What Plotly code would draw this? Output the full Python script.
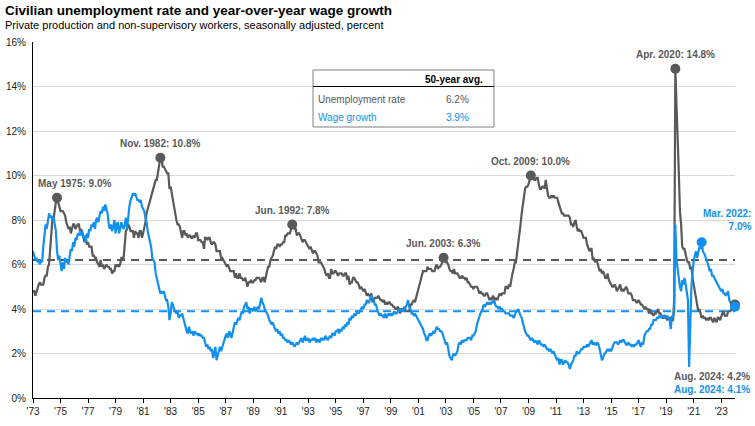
import pandas as pd
import plotly.graph_objects as go

# ---------------- data ----------------
start_month = "1973-08-01"
end_month = "2024-08-01"

# Civilian unemployment rate, monthly, Aug 1973 - Aug 2024 (%)
unemployment = [
    4.8, 4.8, 4.6, 4.8, 4.9,                                   # 1973 Aug-Dec
    5.1, 5.2, 5.1, 5.1, 5.1, 5.4, 5.5, 5.5, 5.9, 6.0, 6.6, 7.2,  # 1974
    8.1, 8.1, 8.6, 8.8, 9.0, 8.8, 8.6, 8.4, 8.4, 8.4, 8.3, 8.2,  # 1975
    7.9, 7.7, 7.6, 7.7, 7.4, 7.6, 7.8, 7.8, 7.6, 7.7, 7.8, 7.8,  # 1976
    7.5, 7.6, 7.4, 7.2, 7.0, 7.2, 6.9, 7.0, 6.8, 6.8, 6.8, 6.4,  # 1977
    6.4, 6.3, 6.3, 6.1, 6.0, 5.9, 6.2, 5.9, 6.0, 5.8, 5.9, 6.0,  # 1978
    5.9, 5.9, 5.8, 5.8, 5.6, 5.7, 5.7, 6.0, 5.9, 6.0, 5.9, 6.0,  # 1979
    6.3, 6.3, 6.3, 6.9, 7.5, 7.6, 7.8, 7.7, 7.5, 7.5, 7.5, 7.2,  # 1980
    7.5, 7.4, 7.4, 7.2, 7.5, 7.5, 7.2, 7.4, 7.6, 7.9, 8.3, 8.5,  # 1981
    8.6, 8.9, 9.0, 9.3, 9.4, 9.6, 9.8, 9.8, 10.1, 10.4, 10.8, 10.8,  # 1982
    10.4, 10.4, 10.3, 10.2, 10.1, 10.1, 9.4, 9.5, 9.2, 8.8, 8.5, 8.3,  # 1983
    8.0, 7.8, 7.8, 7.7, 7.4, 7.2, 7.5, 7.5, 7.3, 7.4, 7.2, 7.3,  # 1984
    7.3, 7.2, 7.2, 7.3, 7.2, 7.4, 7.4, 7.1, 7.1, 7.1, 7.0, 7.0,  # 1985
    6.7, 7.2, 7.2, 7.1, 7.2, 7.2, 7.0, 6.9, 7.0, 7.0, 6.9, 6.6,  # 1986
    6.6, 6.6, 6.6, 6.3, 6.3, 6.2, 6.1, 6.0, 5.9, 6.0, 5.8, 5.7,  # 1987
    5.7, 5.7, 5.7, 5.4, 5.6, 5.4, 5.4, 5.6, 5.4, 5.4, 5.3, 5.3,  # 1988
    5.4, 5.2, 5.0, 5.2, 5.2, 5.3, 5.2, 5.2, 5.3, 5.3, 5.4, 5.4,  # 1989
    5.4, 5.3, 5.2, 5.4, 5.4, 5.2, 5.5, 5.7, 5.9, 5.9, 6.2, 6.3,  # 1990
    6.4, 6.6, 6.8, 6.7, 6.9, 6.9, 6.8, 6.9, 6.9, 7.0, 7.0, 7.3,  # 1991
    7.3, 7.4, 7.4, 7.4, 7.6, 7.8, 7.7, 7.6, 7.6, 7.3, 7.4, 7.4,  # 1992
    7.3, 7.1, 7.0, 7.1, 7.1, 7.0, 6.9, 6.8, 6.7, 6.8, 6.6, 6.5,  # 1993
    6.6, 6.6, 6.5, 6.4, 6.1, 6.1, 6.1, 6.0, 5.9, 5.8, 5.6, 5.5,  # 1994
    5.6, 5.4, 5.4, 5.8, 5.6, 5.6, 5.7, 5.7, 5.6, 5.5, 5.6, 5.6,  # 1995
    5.6, 5.5, 5.5, 5.6, 5.6, 5.3, 5.5, 5.1, 5.2, 5.2, 5.4, 5.4,  # 1996
    5.3, 5.2, 5.2, 5.1, 4.9, 5.0, 4.9, 4.8, 4.9, 4.7, 4.6, 4.7,  # 1997
    4.6, 4.6, 4.7, 4.3, 4.4, 4.5, 4.5, 4.5, 4.6, 4.5, 4.4, 4.4,  # 1998
    4.3, 4.4, 4.2, 4.3, 4.2, 4.3, 4.3, 4.2, 4.2, 4.1, 4.1, 4.0,  # 1999
    4.0, 4.1, 4.0, 3.8, 4.0, 4.0, 4.0, 4.1, 3.9, 3.9, 3.9, 3.9,  # 2000
    4.2, 4.2, 4.3, 4.4, 4.3, 4.5, 4.6, 4.9, 5.0, 5.3, 5.5, 5.7,  # 2001
    5.7, 5.7, 5.7, 5.9, 5.8, 5.8, 5.8, 5.7, 5.7, 5.7, 5.9, 6.0,  # 2002
    5.8, 5.9, 5.9, 6.0, 6.1, 6.3, 6.2, 6.1, 6.1, 6.0, 5.8, 5.7,  # 2003
    5.7, 5.6, 5.8, 5.6, 5.6, 5.6, 5.5, 5.4, 5.4, 5.5, 5.4, 5.4,  # 2004
    5.3, 5.4, 5.2, 5.2, 5.1, 5.0, 5.0, 4.9, 5.0, 5.0, 5.0, 4.9,  # 2005
    4.7, 4.8, 4.7, 4.7, 4.6, 4.6, 4.7, 4.7, 4.5, 4.4, 4.5, 4.4,  # 2006
    4.6, 4.5, 4.4, 4.5, 4.4, 4.6, 4.7, 4.6, 4.7, 4.7, 4.7, 5.0,  # 2007
    5.0, 4.9, 5.1, 5.0, 5.4, 5.6, 5.8, 6.1, 6.1, 6.5, 6.8, 7.3,  # 2008
    7.8, 8.3, 8.7, 9.0, 9.4, 9.5, 9.5, 9.6, 9.8, 10.0, 9.9, 9.9,  # 2009
    9.8, 9.8, 9.9, 9.9, 9.6, 9.4, 9.4, 9.5, 9.5, 9.4, 9.8, 9.3,  # 2010
    9.1, 9.0, 9.0, 9.1, 9.0, 9.1, 9.0, 9.0, 9.0, 8.8, 8.6, 8.5,  # 2011
    8.3, 8.3, 8.2, 8.2, 8.2, 8.2, 8.2, 8.1, 7.8, 7.8, 7.7, 7.9,  # 2012
    8.0, 7.7, 7.5, 7.6, 7.5, 7.5, 7.3, 7.2, 7.2, 7.2, 6.9, 6.7,  # 2013
    6.6, 6.7, 6.7, 6.2, 6.3, 6.1, 6.2, 6.1, 5.9, 5.7, 5.8, 5.6,  # 2014
    5.7, 5.5, 5.4, 5.4, 5.6, 5.3, 5.2, 5.1, 5.0, 5.0, 5.1, 5.0,  # 2015
    4.8, 4.9, 5.0, 5.1, 4.8, 4.9, 4.8, 4.9, 5.0, 4.9, 4.7, 4.7,  # 2016
    4.7, 4.6, 4.4, 4.4, 4.4, 4.3, 4.3, 4.4, 4.3, 4.2, 4.2, 4.1,  # 2017
    4.0, 4.1, 4.0, 4.0, 3.8, 4.0, 3.8, 3.8, 3.7, 3.8, 3.8, 3.9,  # 2018
    4.0, 3.8, 3.8, 3.7, 3.6, 3.6, 3.7, 3.6, 3.5, 3.6, 3.6, 3.6,  # 2019
    3.5, 3.5, 4.4, 14.8, 13.2, 11.0, 10.2, 8.4, 7.8, 6.8, 6.7, 6.7,  # 2020
    6.4, 6.2, 6.1, 6.1, 5.8, 5.9, 5.4, 5.1, 4.7, 4.5, 4.2, 3.9,  # 2021
    4.0, 3.8, 3.6, 3.7, 3.6, 3.6, 3.5, 3.6, 3.5, 3.6, 3.6, 3.5,  # 2022
    3.4, 3.6, 3.5, 3.4, 3.6, 3.6, 3.5, 3.7, 3.8, 3.9, 3.7, 3.7,  # 2023
    3.7, 3.9, 3.9, 3.9, 4.0, 4.1, 4.3, 4.2,                      # 2024 Jan-Aug
]

# Year-over-year wage growth, production & non-supervisory workers (%)
wage_growth = [
    6.6, 6.4, 6.2, 6.3, 6.1,                                   # 1973 Aug-Dec
    6.2, 6.0, 6.2, 6.1, 6.8, 7.4, 7.8, 7.6, 8.0, 8.3, 8.1, 8.2,  # 1974
    8.0, 8.1, 7.8, 7.5, 6.6, 6.2, 6.4, 6.0, 5.7, 6.1, 5.8, 6.3,  # 1975
    6.1, 6.2, 6.0, 6.4, 6.7, 6.6, 7.0, 6.8, 7.2, 7.1, 7.4, 7.3,  # 1976
    7.5, 7.3, 7.5, 7.2, 7.3, 7.0, 7.4, 7.2, 7.6, 7.5, 7.8, 7.7,  # 1977
    7.9, 7.6, 8.0, 8.1, 7.9, 8.2, 8.4, 8.3, 8.6, 8.4, 8.7, 8.5,  # 1978
    8.3, 7.8, 7.6, 7.8, 7.5, 7.7, 8.0, 7.4, 7.8, 7.9, 7.4, 7.6,  # 1979
    7.9, 7.7, 7.6, 7.8, 8.1, 7.6, 8.2, 8.6, 8.9, 9.0, 9.2, 9.1,  # 1980
    9.2, 9.0, 8.9, 8.9, 8.8, 8.9, 8.6, 8.5, 8.4, 8.1, 7.9, 7.5,  # 1981
    7.3, 7.1, 6.8, 6.3, 6.2, 6.1, 5.6, 5.4, 5.2, 4.9, 4.7, 4.8,  # 1982
    4.7, 4.8, 4.6, 4.4, 4.4, 4.1, 3.5, 3.8, 4.3, 4.2, 4.0, 3.9,  # 1983
    3.8, 3.9, 3.6, 3.7, 3.7, 3.8, 3.6, 3.3, 3.1, 3.0, 2.9, 3.2,  # 1984
    3.0, 2.9, 3.0, 2.8, 3.0, 2.9, 2.9, 2.8, 2.9, 2.8, 2.8, 2.7,  # 1985
    2.7, 2.5, 2.3, 2.4, 2.2, 2.3, 2.1, 2.2, 1.8, 2.0, 2.3, 1.7,  # 1986
    1.9, 2.1, 2.3, 2.1, 2.3, 2.5, 2.6, 2.8, 2.9, 2.7, 3.0, 2.9,  # 1987
    2.7, 3.0, 3.2, 3.4, 3.3, 3.5, 3.6, 3.5, 3.8, 3.9, 3.8, 4.1,  # 1988
    4.2, 4.3, 4.0, 4.1, 3.8, 4.0, 4.0, 3.9, 4.1, 3.9, 4.0, 4.1,  # 1989
    4.0, 4.3, 4.5, 4.3, 4.2, 4.0, 3.9, 3.8, 3.7, 3.5, 3.4, 3.3,  # 1990
    3.4, 3.2, 3.1, 3.0, 3.1, 2.9, 3.0, 2.8, 2.9, 2.7, 2.7, 2.6,  # 1991
    2.6, 2.5, 2.6, 2.5, 2.4, 2.5, 2.4, 2.3, 2.4, 2.5, 2.4, 2.5,  # 1992
    2.6, 2.7, 2.5, 2.6, 2.8, 2.6, 2.6, 2.7, 2.5, 2.6, 2.6, 2.7,  # 1993
    2.6, 2.7, 2.5, 2.6, 2.6, 2.5, 2.7, 2.6, 2.7, 2.6, 2.8, 2.7,  # 1994
    2.6, 2.7, 2.8, 2.7, 2.9, 2.9, 2.8, 3.0, 3.0, 3.1, 2.9, 3.1,  # 1995
    3.0, 3.2, 3.1, 3.3, 3.2, 3.4, 3.3, 3.6, 3.5, 3.7, 3.6, 3.8,  # 1996
    3.7, 3.8, 3.9, 3.8, 3.9, 4.0, 4.1, 4.0, 4.2, 4.2, 4.4, 4.3,  # 1997
    4.3, 4.5, 4.6, 4.5, 4.4, 4.2, 4.2, 4.0, 3.8, 3.7, 3.8, 3.7,  # 1998
    3.7, 3.6, 3.8, 3.6, 3.7, 3.8, 3.7, 3.8, 3.7, 3.8, 3.9, 3.8,  # 1999
    3.8, 3.9, 3.9, 4.0, 3.9, 4.0, 3.9, 4.0, 4.1, 4.2, 4.4, 4.1,  # 2000
    4.0, 3.8, 3.8, 3.7, 3.8, 3.7, 3.6, 3.5, 3.4, 3.3, 3.2, 3.1,  # 2001
    2.9, 2.8, 2.6, 2.6, 2.8, 2.9, 2.8, 2.9, 3.0, 2.9, 3.1, 3.2,  # 2002
    3.1, 3.1, 3.0, 3.0, 2.9, 2.7, 2.6, 2.4, 2.5, 2.2, 1.9, 1.8,  # 2003
    1.7, 1.9, 2.0, 1.9, 2.0, 2.1, 2.4, 2.5, 2.4, 2.6, 2.5, 2.6,  # 2004
    2.6, 2.6, 2.7, 2.7, 2.7, 2.6, 2.8, 2.8, 2.9, 3.0, 3.3, 3.5,  # 2005
    3.7, 3.8, 3.9, 4.0, 4.2, 4.1, 4.2, 4.3, 4.2, 4.3, 4.2, 4.3,  # 2006
    4.3, 4.4, 4.2, 4.1, 4.1, 4.0, 4.1, 4.0, 4.0, 3.9, 3.9, 3.8,  # 2007
    3.8, 3.8, 3.8, 3.7, 3.7, 3.7, 3.6, 3.7, 3.9, 3.9, 4.0, 3.8,  # 2008
    3.7, 3.6, 3.4, 3.2, 3.0, 2.9, 2.8, 2.8, 2.7, 2.6, 2.7, 2.6,  # 2009
    2.5, 2.6, 2.5, 2.4, 2.6, 2.5, 2.4, 2.4, 2.3, 2.4, 2.3, 2.2,  # 2010
    2.2, 2.1, 2.2, 2.1, 2.0, 2.1, 1.9, 1.8, 1.7, 1.8, 1.5, 1.7,  # 2011
    1.7, 1.5, 1.6, 1.7, 1.6, 1.6, 1.5, 1.3, 1.5, 1.6, 1.7, 1.9,  # 2012
    1.9, 2.1, 2.0, 2.0, 2.1, 2.2, 2.2, 2.3, 2.3, 2.3, 2.4, 2.3,  # 2013
    2.4, 2.5, 2.6, 2.4, 2.5, 2.4, 2.4, 2.5, 2.4, 2.2, 1.9, 1.7,  # 2014
    1.8, 2.0, 2.0, 2.1, 2.2, 2.1, 2.2, 2.1, 2.3, 2.4, 2.5, 2.5,  # 2015
    2.5, 2.4, 2.5, 2.6, 2.5, 2.6, 2.6, 2.5, 2.4, 2.4, 2.5, 2.4,  # 2016
    2.4, 2.3, 2.4, 2.3, 2.4, 2.4, 2.5, 2.6, 2.4, 2.3, 2.5, 2.4,  # 2017
    2.8, 2.9, 3.0, 3.0, 3.1, 3.1, 3.3, 3.3, 3.5, 3.5, 3.5, 3.6,  # 2018
    3.6, 3.7, 3.6, 3.7, 3.6, 3.7, 3.7, 3.6, 3.7, 3.6, 3.5, 3.1,  # 2019
    3.7, 3.6, 3.9, 7.8, 6.2, 5.8, 5.3, 5.0, 4.8, 5.3, 5.1, 5.4,  # 2020
    5.1, 4.8, 4.4, 1.4, 4.0, 5.0, 5.6, 6.2, 6.4, 6.6, 6.3, 6.5,  # 2021
    6.8, 6.7, 7.0, 6.6, 6.5, 6.4, 6.2, 6.1, 5.9, 5.7, 5.8, 5.5,  # 2022
    5.5, 5.4, 5.3, 5.2, 5.1, 5.0, 4.9, 4.8, 4.9, 4.7, 4.7, 4.6,  # 2023
    4.7, 4.8, 4.4, 4.3, 4.2, 4.1, 4.0, 4.1,                      # 2024 Jan-Aug
]

avg_unemployment = 6.2
avg_wage_growth = 3.9

unemp_peak_dates = ["1975-05-01", "1982-11-01", "1992-06-01", "2003-06-01", "2009-10-01", "2020-04-01"]
unemp_peak_labels = ["May 1975: 9.0%", "Nov. 1982: 10.8%", "Jun. 1992: 7.8%",
                     "Jun. 2003: 6.3%", "Oct. 2009: 10.0%", "Apr. 2020: 14.8%"]
unemp_label_xshift = [17, 0, 0, 0, 0, 0]

wage_peak_date = "2022-03-01"
wage_peak_label = "Mar. 2022:<br>7.0%"

latest_unemp_label = "Aug. 2024: 4.2%"
latest_wage_label = "Aug. 2024: 4.1%"

tick_labels = ["'73", "'75", "'77", "'79", "'81", "'83", "'85", "'87", "'89", "'91", "'93", "'95", "'97",
               "'99", "'01", "'03", "'05", "'07", "'09", "'11", "'13", "'15", "'17", "'19", "'21", "'23"]
tick_dates = [f"{1973 + 2 * i}-08-01" for i in range(len(tick_labels))]

y_ticks = [0, 2, 4, 6, 8, 10, 12, 14, 16]

# ---------------- styling ----------------
GRAY = "#595959"
BLUE = "#1190f0"
FONT = "Arial, Liberation Sans, sans-serif"

months = pd.date_range(start_month, end_month, freq="MS")
unemp = pd.Series(unemployment, index=months)
wage = pd.Series(wage_growth, index=months)

fig = go.Figure()

# average lines
fig.add_trace(go.Scatter(x=[months[0], months[-1]], y=[avg_unemployment] * 2, mode="lines",
                         line=dict(color=GRAY, width=2, dash="8px,6px"), hoverinfo="skip"))
fig.add_trace(go.Scatter(x=[months[0], months[-1]], y=[avg_wage_growth] * 2, mode="lines",
                         line=dict(color=BLUE, width=2, dash="8px,6px"), hoverinfo="skip"))

# series
fig.add_trace(go.Scatter(x=months, y=unemp.values, mode="lines", line=dict(color=GRAY, width=2.2)))
fig.add_trace(go.Scatter(x=months, y=wage.values, mode="lines", line=dict(color=BLUE, width=2.2)))

# peak markers
pk_x = pd.to_datetime(unemp_peak_dates)
fig.add_trace(go.Scatter(x=pk_x, y=unemp.loc[pk_x].values, mode="markers", cliponaxis=False,
                         marker=dict(color=GRAY, size=10)))
fig.add_trace(go.Scatter(x=[pd.Timestamp(wage_peak_date)], y=[wage.loc[wage_peak_date]], mode="markers",
                         cliponaxis=False, marker=dict(color=BLUE, size=10)))
# latest markers
fig.add_trace(go.Scatter(x=[months[-1]], y=[unemp.iloc[-1]], mode="markers", cliponaxis=False,
                         marker=dict(color=GRAY, size=10)))
fig.add_trace(go.Scatter(x=[months[-1]], y=[wage.iloc[-1]], mode="markers", cliponaxis=False,
                         marker=dict(color=BLUE, size=10)))

annotations = []
for d, lab, xs in zip(pk_x, unemp_peak_labels, unemp_label_xshift):
    annotations.append(dict(x=d, y=unemp.loc[d], text=lab, showarrow=False, xshift=xs, yshift=14,
                            xanchor="center", yanchor="middle",
                            font=dict(family=FONT, size=10, color=GRAY, weight="bold")))
annotations.append(dict(x=pd.Timestamp(wage_peak_date), y=wage.loc[wage_peak_date], text=wage_peak_label,
                        showarrow=False, xanchor="right", yanchor="middle", align="right", xshift=51, yshift=22,
                        font=dict(family=FONT, size=10, color=BLUE, weight="bold")))


def px_x(p):
    return (p - 33) / 702


def px_y(p):
    return (398 - p) / 356


annotations.append(dict(x=px_x(752), y=px_y(376), xref="paper", yref="paper", text=latest_unemp_label,
                        showarrow=False, xanchor="right", yanchor="middle",
                        font=dict(family=FONT, size=10, color=GRAY, weight="bold")))
annotations.append(dict(x=px_x(752), y=px_y(389), xref="paper", yref="paper", text=latest_wage_label,
                        showarrow=False, xanchor="right", yanchor="middle",
                        font=dict(family=FONT, size=10, color=BLUE, weight="bold")))

# table
annotations += [
    dict(x=px_x(454), y=px_y(79), xref="paper", yref="paper", text="50-year avg.", showarrow=False,
         xanchor="center", yanchor="middle",
         font=dict(family=FONT, size=10, color="#000000", weight="bold")),
    dict(x=px_x(316), y=px_y(99), xref="paper", yref="paper", text="Unemployment rate", showarrow=False,
         xanchor="left", yanchor="middle", font=dict(family=FONT, size=10, color=GRAY)),
    dict(x=px_x(471), y=px_y(99), xref="paper", yref="paper", text=f"{avg_unemployment:.1f}%",
         showarrow=False, xanchor="right", yanchor="middle", font=dict(family=FONT, size=10, color=GRAY)),
    dict(x=px_x(316), y=px_y(118), xref="paper", yref="paper", text="Wage growth", showarrow=False,
         xanchor="left", yanchor="middle", font=dict(family=FONT, size=10, color=BLUE)),
    dict(x=px_x(471), y=px_y(118), xref="paper", yref="paper", text=f"{avg_wage_growth:.1f}%",
         showarrow=False, xanchor="right", yanchor="middle", font=dict(family=FONT, size=10, color=BLUE)),
]

# title / subtitle
annotations += [
    dict(x=px_x(3), y=px_y(10), xref="paper", yref="paper", xanchor="left", yanchor="middle", showarrow=False,
         text="Civilian unemployment rate and year-over-year wage growth",
         font=dict(family=FONT, size=13.5, color="#000000", weight="bold")),
    dict(x=px_x(3), y=px_y(25), xref="paper", yref="paper", xanchor="left", yanchor="middle", showarrow=False,
         text="Private production and non-supervisory workers, seasonally adjusted, percent",
         font=dict(family=FONT, size=11, color="#000000")),
]

shapes = [
    dict(type="rect", xref="paper", yref="paper", x0=px_x(313), x1=px_x(494), y0=px_y(127), y1=px_y(70),
         fillcolor="white", line=dict(color="#808080", width=1), layer="above"),
    dict(type="line", xref="paper", yref="paper", x0=px_x(313), x1=px_x(494), y0=px_y(86.5), y1=px_y(86.5),
         line=dict(color="#000000", width=1.2), layer="above"),
]

fig.update_layout(
    width=755, height=426,
    margin=dict(l=33, r=20, t=42, b=28, autoexpand=False),
    paper_bgcolor="white", plot_bgcolor="white",
    showlegend=False,
    font=dict(family=FONT, size=10, color="#222222"),
    annotations=annotations,
    shapes=shapes,
    xaxis=dict(type="date", range=[months[0], months[-1]], tickvals=pd.to_datetime(tick_dates),
               ticktext=tick_labels, showgrid=False, showline=True, linecolor="#000000", linewidth=1,
               ticks="outside", ticklen=4, tickcolor="#000000", tickfont=dict(size=10, color="#222222"),
               zeroline=False, automargin=False),
    yaxis=dict(range=[0, 16], tickvals=y_ticks, ticktext=[f"{v}%" for v in y_ticks],
               showgrid=True, gridcolor="#d9d9d9", gridwidth=1, showline=True, linecolor="#000000",
               linewidth=1, zeroline=False, ticks="", ticklabelstandoff=4,
               tickfont=dict(size=10, color="#222222"), automargin=False),
)

fig.write_html("out.html")
